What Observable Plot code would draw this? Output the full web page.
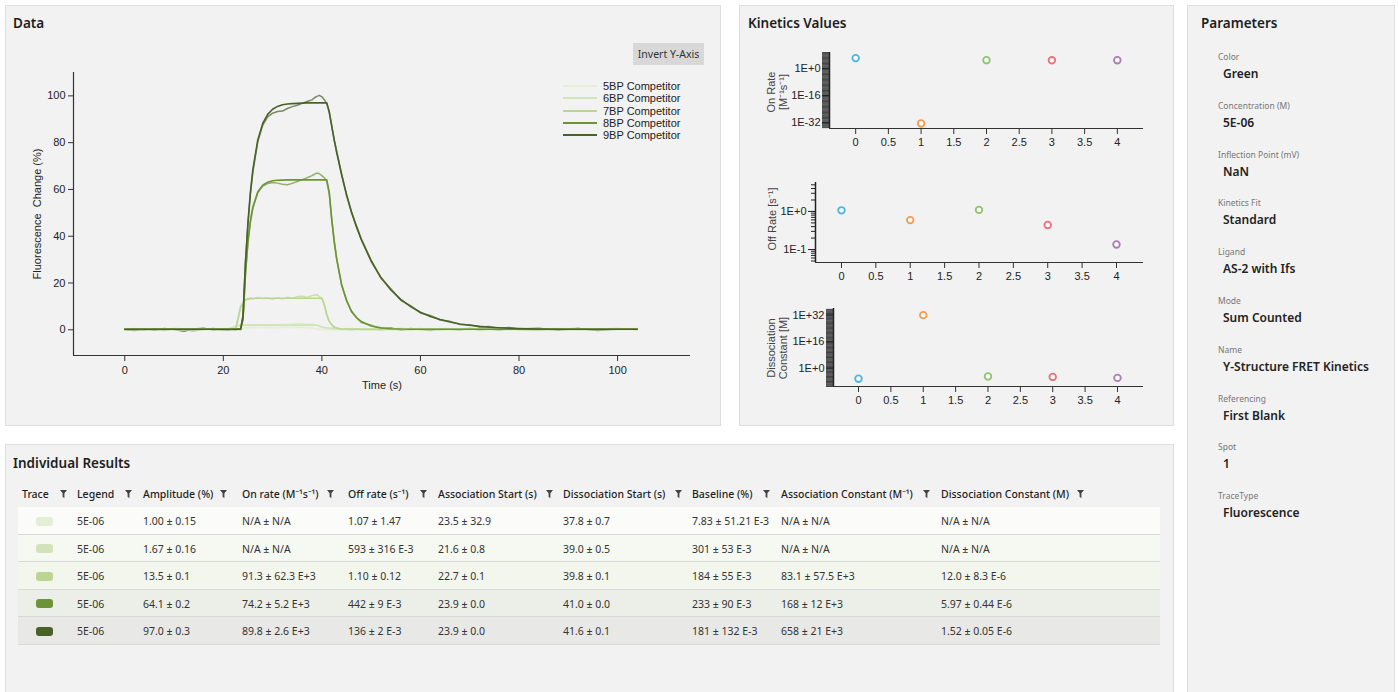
<!DOCTYPE html>
<html><head><meta charset="utf-8">
<script src="https://cdn.jsdelivr.net/npm/d3@7"></script>
<script src="https://cdn.jsdelivr.net/npm/@observablehq/plot@0.6"></script>
<style>
body{margin:0;background:#fff;width:1398px;height:692px;overflow:hidden;position:relative;font-family:"Segoe UI","Noto Sans",sans-serif;color:#222}
.panel{position:absolute;background:#f2f2f2;border:1px solid #dedede;box-sizing:border-box}
.abs{position:absolute;white-space:nowrap}
.ptitle{position:absolute;font-size:13.5px;font-weight:600;color:#1e1e1e;line-height:18px}
.rot{position:absolute;transform:translate(-50%,-50%) rotate(-90deg);font-family:"Liberation Sans",Arial,sans-serif;font-size:11px;color:#444;white-space:pre;text-align:center;line-height:12px}
svg{overflow:visible}
</style></head><body>
<div class="panel" style="left:5px;top:5px;width:716px;height:421px"></div>
<div class="panel" style="left:739px;top:5px;width:435px;height:421px"></div>
<div class="panel" style="left:1187px;top:5px;width:208px;height:690px"></div>
<div class="panel" style="left:5px;top:444px;width:1169px;height:252px"></div>
<div class="ptitle" style="left:13px;top:14px">Data</div>
<div class="ptitle" style="left:748px;top:14px">Kinetics Values</div>
<div class="ptitle" style="left:1201px;top:14px">Parameters</div>
<div class="ptitle" style="left:13px;top:454px">Individual Results</div>
<div class="abs" style="left:633px;top:43px;width:71px;height:22px;background:#d8d8d8;font-size:10.5px;line-height:22px;text-align:center;color:#333">Invert Y-Axis</div>
<div id="root"></div>
<script>
// ---------- Data chart: time grid (s) ----------
const T = [0,2,4,6,8,10,12,14,16,18,20,21,22,22.5,23,23.5,24,24.5,25,25.5,26,
  27,28,29,30,31,32,33,34,35,36,37,38,38.5,39,39.5,40,40.5,41,41.5,42,42.5,43,
  44,45,46,47,48,50,52,54,56,58,60,62,64,66,68,70,72,74,76,78,80,84,88,92,96,100,104];

const traceNames = ["5BP Competitor","6BP Competitor","7BP Competitor","8BP Competitor","9BP Competitor"];

// measured traces (%)
const meas5 = [-0.2,0.3,0.1,-0.1,0.4,0.0,-0.3,0.2,0.1,-0.2,0.3,0.0,0.2,-0.1,0.1,0.0,
  0.5,0.9,1.1,0.8,
  1.1,0.9,1.2,1.0,0.8,1.1,1.0,1.3,0.9,1.2,1.1,1.0,
  0.9,0.6,0.3,0.2,0.1,0.2,-0.1,
  0.1,0.0,-0.2,0.2,0.1,-0.1,0.3,0.0,0.2,
  -0.1,0.2,0.0,0.3,-0.2,0.1,0.4,0.0,-0.1,0.2,0.3,-0.2,0.1,0.0,0.2,-0.1,
  0.3,0.0,0.1,-0.2,0.2,0.6];
const meas6 = [0.2,0.5,0.1,0.4,0.0,0.6,0.3,0.2,0.5,0.1,0.4,0.3,
  1.0,1.6,1.8,2.0,1.8,
  2.1,1.9,2.0,1.8,2.2,2.0,1.9,2.1,2.0,2.3,2.2,2.4,2.5,2.6,2.3,2.4,2.2,2.0,
  1.5,1.3,1.0,0.8,0.7,0.5,0.6,0.4,
  0.3,0.5,0.2,0.4,0.3,
  0.1,0.4,0.3,0.6,0.2,0.3,0.0,0.5,0.4,0.2,0.6,0.3,0.1,0.5,0.3,0.4,
  0.2,0.5,0.3,0.1,0.4,0.3];
const meas7 = [0.1,-0.2,0.3,0.0,-0.3,0.2,0.4,-0.1,0.0,0.3,-0.2,0.1,0.2,0.4,
  4.6,9.9,11.5,13.0,13.4,13.6,13.2,
  13.8,13.4,13.6,13.1,13.7,13.2,13.9,13.5,14.1,14.3,13.8,14.6,
  14.9,15.0,14.2,13.4,
  10.5,6.6,3.4,2.3,1.0,0.8,
  0.1,0.4,-0.2,0.3,0.0,
  0.2,-0.3,0.4,0.1,-0.1,0.5,0.2,-0.2,0.3,0.0,0.4,-0.1,0.2,0.6,0.0,0.3,
  0.1,0.4,-0.2,0.3,0.5,0.0];
const meas8 = [0.3,0.1,-0.2,0.4,-0.1,0.3,0.0,-0.4,0.2,0.5,-0.2,0.1,0.3,-0.1,0.2,0.0,
  4.2,23.5,37.0,46.0,52.0,
  58.6,61.4,62.5,63.0,62.7,62.2,62.0,62.6,63.4,64.2,65.0,65.9,
  66.5,67.0,66.7,65.9,65.0,63.4,58.0,47.6,38.2,30.6,
  19.0,12.8,7.6,5.4,3.1,
  1.9,0.4,0.9,-0.2,0.5,0.1,-0.3,0.4,0.2,-0.1,0.6,0.0,0.3,-0.2,0.4,0.1,
  -0.1,0.3,0.5,-0.2,0.2,0.4];
const meas9 = [0.0,-0.3,0.4,-0.2,0.5,0.1,-0.6,0.3,0.7,-0.1,0.2,-0.2,0.1,0.0,0.3,0.1,
  6.5,29.5,45.0,58.0,67.5,
  80.5,87.5,91.0,92.6,93.3,93.5,94.6,95.4,96.0,96.8,97.6,98.3,
  99.2,99.8,100.2,99.6,98.4,96.6,93.0,87.4,81.0,76.4,
  66.8,57.4,50.2,44.6,38.9,
  29.8,22.0,17.5,12.6,10.3,7.2,6.1,4.2,3.6,2.3,2.2,1.2,1.4,0.6,1.0,0.3,
  0.6,-0.2,0.5,-0.3,0.4,0.1];

// fitted curves (%)
const fit5 = [0,0,0,0,0,0,0,0,0,0,0,0,0,0,0,0,
  0.6,0.85,0.95,0.98,
  1,1,1,1,1,1,1,1,1,1,1,1,
  0.81,0.47,0.28,0.16,0.1,0.06,0.03,
  0,0,0,0,0,0,0,0,0,
  0,0,0,0,0,0,0,0,0,0,0,0,0,0,0,0,
  0,0,0,0,0,0];
const fit6 = [0.3,0.3,0.3,0.3,0.3,0.3,0.3,0.3,0.3,0.3,0.3,0.3,
  1.1,1.5,1.75,1.87,1.93,
  1.97,1.97,1.97,1.97,1.97,1.97,1.97,1.97,1.97,1.97,1.97,1.97,1.97,1.97,1.97,1.97,1.97,1.97,
  1.54,1.22,0.99,0.81,0.68,0.58,0.51,0.46,
  0.39,0.35,0.33,0.3,0.3,
  0.3,0.3,0.3,0.3,0.3,0.3,0.3,0.3,0.3,0.3,0.3,0.3,0.3,0.3,0.3,0.3,
  0.3,0.3,0.3,0.3,0.3,0.3];
const fit7 = [0.2,0.2,0.2,0.2,0.2,0.2,0.2,0.2,0.2,0.2,0.2,0.2,0.2,0.2,
  5.0,9.6,11.7,12.7,13.1,13.3,13.4,
  13.5,13.5,13.5,13.5,13.5,13.5,13.5,13.5,13.5,13.5,13.5,13.5,
  13.5,13.5,13.5,13.5,
  10.8,6.3,3.6,2.1,1.2,0.7,
  0.3,0.2,0.2,0.2,0.2,
  0.2,0.2,0.2,0.2,0.2,0.2,0.2,0.2,0.2,0.2,0.2,0.2,0.2,0.2,0.2,0.2,
  0.2,0.2,0.2,0.2,0.2,0.2];
const fit8 = [0.2,0.2,0.2,0.2,0.2,0.2,0.2,0.2,0.2,0.2,0.2,0.2,0.2,0.2,0.2,0.2,
  5.0,24.7,37.9,46.7,52.5,
  59.0,61.8,63.1,63.7,63.9,64.0,64.1,64.1,64.1,64.1,64.1,64.1,
  64.1,64.1,64.1,64.1,64.1,64.1,58.7,47.0,37.7,30.2,
  19.4,12.5,8.0,5.2,3.5,
  1.6,0.8,0.45,0.3,0.25,0.25,0.25,0.25,0.25,0.25,0.25,0.25,0.25,0.25,0.25,0.25,
  0.25,0.25,0.25,0.25,0.25,0.25];
const fit9 = [0.2,0.2,0.2,0.2,0.2,0.2,0.2,0.2,0.2,0.2,0.2,0.2,0.2,0.2,0.2,0.2,
  5.5,28.7,46.0,58.9,68.6,
  81.2,88.2,92.1,94.3,95.5,96.2,96.5,96.7,96.8,96.9,97.0,97.0,
  97.0,97.0,97.0,97.0,97.0,97.0,93.1,87.0,81.3,75.9,
  66.3,57.9,50.5,44.1,38.5,
  29.3,22.3,17.0,13.0,9.9,7.5,5.7,4.4,3.3,2.5,1.9,1.45,1.1,0.85,0.65,0.5,
  0.35,0.25,0.2,0.2,0.2,0.2];

const xTicksMain = [0,20,40,60,80,100];
const yTicksMain = [0,20,40,60,80,100];

// ---------- Kinetics values ----------
const kinIndex = [0,1,2,3,4];
const kinXTicks = [0,0.5,1,1.5,2,2.5,3,3.5,4];
const onRateVals = [1.5e6, 3e-33, 91.3e3, 74.2e3, 89.8e3];
const offRateVals = [1.07, 0.593, 1.10, 0.442, 0.136];
const dissConstVals = [5e-7, 1e32, 12.0e-6, 5.97e-6, 1.52e-6];
const onRateTicks = [1e-32, 1e-16, 1];
const onRateTickLabels = ["1E-32","1E-16","1E+0"];
const offRateTicks = [0.1, 1];
const offRateTickLabels = ["1E-1","1E+0"];
const dissTicks = [1, 1e16, 1e32];
const dissTickLabels = ["1E+0","1E+16","1E+32"];

// ---------- Table ----------
const tableHeaders = ["Trace","Legend","Amplitude (%)","On rate (M\u207B\u00B9s\u207B\u00B9)","Off rate (s\u207B\u00B9)","Association Start (s)","Dissociation Start (s)","Baseline (%)","Association Constant (M\u207B\u00B9)","Dissociation Constant (M)"];
const legendCol = ["5E-06","5E-06","5E-06","5E-06","5E-06"];
const amplitudeCol = ["1.00 ± 0.15","1.67 ± 0.16","13.5 ± 0.1","64.1 ± 0.2","97.0 ± 0.3"];
const onRateCol = ["N/A ± N/A","N/A ± N/A","91.3 ± 62.3 E+3","74.2 ± 5.2 E+3","89.8 ± 2.6 E+3"];
const offRateCol = ["1.07 ± 1.47","593 ± 316 E-3","1.10 ± 0.12","442 ± 9 E-3","136 ± 2 E-3"];
const assocStartCol = ["23.5 ± 32.9","21.6 ± 0.8","22.7 ± 0.1","23.9 ± 0.0","23.9 ± 0.0"];
const dissStartCol = ["37.8 ± 0.7","39.0 ± 0.5","39.8 ± 0.1","41.0 ± 0.0","41.6 ± 0.1"];
const baselineCol = ["7.83 ± 51.21 E-3","301 ± 53 E-3","184 ± 55 E-3","233 ± 90 E-3","181 ± 132 E-3"];
const assocConstCol = ["N/A ± N/A","N/A ± N/A","83.1 ± 57.5 E+3","168 ± 12 E+3","658 ± 21 E+3"];
const dissConstCol = ["N/A ± N/A","N/A ± N/A","12.0 ± 8.3 E-6","5.97 ± 0.44 E-6","1.52 ± 0.05 E-6"];

// ---------- Parameters ----------
const paramLabels = ["Color","Concentration (M)","Inflection Point (mV)","Kinetics Fit","Ligand","Mode","Name","Referencing","Spot","TraceType"];
const paramValues = ["Green","5E-06","NaN","Standard","AS-2 with Ifs","Sum Counted","Y-Structure FRET Kinetics","First Blank","1","Fluorescence"];

// ---------- styles ----------
const traceColors = ["#e5eed6","#d2e3b9","#bbd593","#6c9437","#4a6128"];
const kinColors = ["#4eb3e6","#f39c4f","#8dc46f","#e9727a","#a97db3"];
const rowBg = ["#fbfbfa","#f6f9f1","#f3f6ed","#ecefe7","#e8e9e6"];

const root = document.getElementById("root");
function place(node, left, top) {
  const d = document.createElement("div");
  d.className = "abs"; d.style.left = left + "px"; d.style.top = top + "px";
  d.appendChild(node); root.appendChild(d); return d;
}
function txt(s, left, top, css) {
  const d = document.createElement("div");
  d.className = "abs"; d.style.left = left + "px"; d.style.top = top + "px";
  d.textContent = s; Object.assign(d.style, css || {}); root.appendChild(d); return d;
}
const axisFont = {fontFamily: "'Liberation Sans', Arial, sans-serif", fontSize: "11px", background: "transparent", color: "#222", overflow: "visible"};

// ---------- main chart ----------
const measured = [meas5, meas6, meas7, meas8, meas9];
const fits = [fit5, fit6, fit7, fit8, fit9];
const rows = traceNames.flatMap((name, k) => T.map((t, i) => ({name, t, meas: measured[k][i], fit: fits[k][i]})));
const xDom = [-10.4, 114.8], yDom = [-11, 110];
const main = Plot.plot({
  width: 720, height: 425,
  marginLeft: 73, marginRight: 30, marginTop: 72, marginBottom: 70,
  x: {domain: xDom}, y: {domain: yDom},
  color: {domain: traceNames, range: traceColors},
  style: axisFont,
  marks: [
    Plot.line(rows, {x: "t", y: "meas", z: "name", stroke: "name", strokeWidth: 1.5, strokeOpacity: 0.72}),
    Plot.line(rows, {x: "t", y: "fit", z: "name", stroke: "name", strokeWidth: 1.6}),
    Plot.ruleY([yDom[0]], {stroke: "#333", strokeWidth: 1.2}),
    Plot.ruleX([xDom[0]], {stroke: "#333", strokeWidth: 1.2}),
    Plot.axisX({ticks: xTicksMain, tickSize: 6, tickPadding: 5, stroke: "#333", label: "Time (s)", labelAnchor: "center", labelOffset: 33, labelArrow: "none", tickFormat: d => String(d)}),
    Plot.axisY({ticks: yTicksMain, tickSize: 5, tickPadding: 3, stroke: "#333", label: "Fluorescence\u00A0 Change (%)", labelAnchor: "center", labelOffset: 40, labelArrow: "none", tickFormat: d => String(d)})
  ]
});
place(main, 0, 0);

// legend
traceNames.forEach((n, k) => {
  const d = document.createElement("div");
  d.className = "abs";
  d.style.left = "563px"; d.style.top = (80 + k * 12.3) + "px";
  d.style.font = "11px 'Liberation Sans', Arial, sans-serif"; d.style.color = "#222"; d.style.lineHeight = "12px";
  d.innerHTML = `<span style="display:inline-block;width:34px;height:2px;background:${traceColors[k]};vertical-align:middle;margin-right:6px;position:relative;top:-1px"></span>`;
  d.appendChild(document.createTextNode(n));
  root.appendChild(d);
});

// ---------- kinetics plots ----------
function kinPlot(vals, cfg) {
  const pts = kinIndex.map((x, i) => ({x, v: vals[i]}));
  const p = Plot.plot({
    width: 430, height: 115,
    marginLeft: cfg.ml, marginRight: 27, marginTop: cfg.mt, marginBottom: cfg.mb,
    x: {domain: cfg.xDom},
    y: {type: "log", domain: cfg.yDom},
    color: {type: "ordinal", domain: kinIndex, range: kinColors},
    style: axisFont,
    marks: [
      Plot.axisY({ticks: cfg.minor, tickSize: cfg.minorSize, stroke: "#222", strokeWidth: cfg.minorWidth, tickFormat: () => "", label: null}),
      Plot.axisY({ticks: cfg.major, tickSize: 7, tickPadding: 2, stroke: "#222", label: null,
        tickFormat: d => cfg.labels[cfg.major.indexOf(d)]}),
      Plot.ruleY([cfg.yDom[0]], {stroke: "#333", strokeWidth: 1.2}),
      Plot.ruleX([cfg.xDom[0]], {stroke: "#222", strokeWidth: 1.5}),
      Plot.axisX({ticks: kinXTicks, tickSize: 6, tickPadding: 4, stroke: "#333", label: null, tickFormat: d => String(d)}),
      Plot.dot(pts, {x: "x", y: "v", stroke: "x", fill: "#fafafa", r: 3.3, strokeWidth: 1.8})
    ]
  });
  place(p, 740, cfg.top);
}
const logTicks = (a, b, ms) => d3.range(a, b + 1).flatMap(e => ms.map(m => m * Math.pow(10, e)));
kinPlot(onRateVals, {top: 45, ml: 89, mt: 7, mb: 32, xDom: [-0.4, 4.4], yDom: [Math.pow(10, -35.5), Math.pow(10, 9.5)],
  minor: logTicks(-36, 9, [1, 3]).filter(v => v > Math.pow(10, -35.5) && v < Math.pow(10, 9.5)), minorSize: 7, minorWidth: 0.8, major: onRateTicks, labels: onRateTickLabels});
kinPlot(offRateVals, {top: 175, ml: 75, mt: 7, mb: 28, xDom: [-0.378, 4.393], yDom: [Math.pow(10, -1.34), Math.pow(10, 0.76)],
  minor: logTicks(-2, 0, [1, 2, 3, 4, 5, 6, 7, 8, 9]).filter(v => v > 0.046 && v < 5.7), minorSize: 4, minorWidth: 1, major: offRateTicks, labels: offRateTickLabels});
kinPlot(dissConstVals, {top: 300, ml: 93, mt: 8, mb: 29, xDom: [-0.386, 4.402], yDom: [1e-11, 1e36],
  minor: logTicks(-11, 35, [1, 3]), minorSize: 7, minorWidth: 0.8, major: dissTicks, labels: dissTickLabels});

function rotLabel(s, cx, cy) {
  const d = document.createElement("div");
  d.className = "rot"; d.style.left = cx + "px"; d.style.top = cy + "px"; d.textContent = s; root.appendChild(d);
}
rotLabel("On Rate\n[M\u207B\u00B9s\u207B\u00B9]", 777, 92);
rotLabel("Off Rate [s\u207B\u00B9]", 772, 219);
rotLabel("Dissociation\nConstant [M]", 777, 348);

// ---------- table ----------
const colX = [22, 77, 143, 242, 348, 438, 563, 692, 781, 941];
const filterX = [60, 125, 220, 327, 420, 546, 675, 763, 923, 1077];
const funnel = '<svg width="7" height="8" viewBox="0 0 7 8" style="display:block"><path d="M0 0H7L4.4 3.2V8L2.6 7V3.2Z" fill="#444"/></svg>';
tableHeaders.forEach((h, j) => {
  txt(h, colX[j], 486, {fontSize: "10.5px", fontWeight: "500", color: "#1e1e1e", lineHeight: "16px"});
  const f = document.createElement("div"); f.className = "abs"; f.style.left = filterX[j] + "px"; f.style.top = "490px"; f.innerHTML = funnel; root.appendChild(f);
});
const cols = [legendCol, amplitudeCol, onRateCol, offRateCol, assocStartCol, dissStartCol, baselineCol, assocConstCol, dissConstCol];
for (let r = 0; r < 5; r++) {
  const top = 507 + r * 27.6;
  const bg = document.createElement("div"); bg.className = "abs";
  Object.assign(bg.style, {left: "18px", top: top + "px", width: "1142px", height: "27.6px", background: rowBg[r], borderBottom: "1px solid #d9d9d9", boxSizing: "border-box"});
  root.appendChild(bg);
  const sw = document.createElement("div"); sw.className = "abs";
  Object.assign(sw.style, {left: "36px", top: (top + 9.5) + "px", width: "17px", height: "9px", borderRadius: "3px", background: traceColors[r]});
  root.appendChild(sw);
  cols.forEach((c, j) => txt(c[r], colX[j + 1], top + 6, {fontSize: "10.5px", color: "#333", lineHeight: "16px"}));
}

// ---------- parameters ----------
paramLabels.forEach((l, i) => {
  const y = 51 + i * 48.8;
  txt(l, 1218, y, {fontSize: "8.5px", color: "#777", lineHeight: "12px"});
  txt(paramValues[i], 1223, y + 15, {fontSize: "12px", fontWeight: "600", color: "#222", lineHeight: "16px"});
});
</script>
</body></html>
